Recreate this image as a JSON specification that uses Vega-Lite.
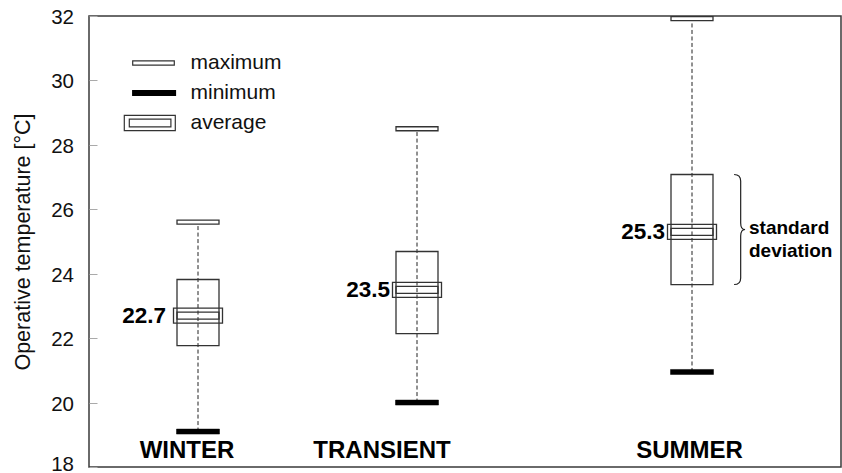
{
  "$schema": "https://vega.github.io/schema/vega-lite/v6.json",
  "width": 752,
  "height": 451,
  "autosize": "none",
  "padding": {"left": 89, "top": 16, "right": 1, "bottom": 6},
  "background": "white",
  "config": {
    "font": "Liberation Sans",
    "view": {"stroke": "#3a3a3a", "strokeWidth": 1.5}
  },
  "data": {
    "values": [
      {"season": "WINTER", "i": 1, "max": 25.6, "min": 19.1, "mean": 22.7, "lo": 21.77, "hi": 23.82},
      {"season": "TRANSIENT", "i": 2, "max": 28.5, "min": 20.0, "mean": 23.5, "lo": 22.14, "hi": 24.69},
      {"season": "SUMMER", "i": 3, "max": 31.92, "min": 20.95, "mean": 25.3, "lo": 23.66, "hi": 27.08}
    ]
  },
  "encoding": {
    "x": {
      "field": "i",
      "type": "quantitative",
      "scale": {"domain": [1, 2, 3], "range": [109, 328, 603], "nice": false, "zero": false, "padding": 0},
      "axis": {
        "title": null,
        "values": [1, 2, 3],
        "labelExpr": "datum.value == 1 ? 'WINTER' : datum.value == 2 ? 'TRANSIENT' : 'SUMMER'",
        "domain": false,
        "ticks": false,
        "grid": false,
        "labelFlush": false,
        "labelOverlap": false,
        "labelFont": "Liberation Sans",
        "labelFontWeight": "bold",
        "labelFontSize": 24,
        "labelColor": "#000",
        "labelBaseline": "alphabetic",
        "labelPadding": -10,
        "labelOffset": {
          "condition": [
            {"test": "datum.value == 1", "value": -11.5},
            {"test": "datum.value == 2", "value": -35.5}
          ],
          "value": -3
        }
      }
    }
  },
  "layer": [
    {
      "mark": {"type": "rule", "strokeDash": [4, 2.5], "color": "#222", "strokeWidth": 1},
      "encoding": {
        "y": {
          "field": "min",
          "type": "quantitative",
          "scale": {"domain": [18, 32], "nice": false, "zero": false, "padding": 0},
          "axis": {
            "title": "Operative temperature [°C]",
            "titleFont": "Liberation Sans",
            "titleFontSize": 21.5,
            "titleFontWeight": "normal",
            "titleColor": "#111",
            "titlePadding": 16,
            "values": [18, 20, 22, 24, 26, 28, 30, 32],
            "grid": false,
            "domain": false,
            "tickSize": -8,
            "tickColor": "#aaa",
            "tickWidth": 1,
            "labelFont": "Liberation Sans",
            "labelFontSize": 20.5,
            "labelColor": "#111",
            "labelPadding": 23.5,
            "labelOffset": {"condition": {"test": "datum.value == 18", "value": -3}, "value": 1.5}
          }
        },
        "y2": {"field": "max"}
      }
    },
    {
      "mark": {"type": "bar", "width": 42, "fill": "white", "fillOpacity": 0, "stroke": "#333", "strokeWidth": 1.3, "opacity": 1},
      "encoding": {
        "y": {"field": "lo", "type": "quantitative"},
        "y2": {"field": "hi"}
      }
    },
    {
      "mark": {"type": "tick", "orient": "horizontal", "size": 49, "thickness": 15, "fill": "white", "fillOpacity": 0, "stroke": "#333", "strokeWidth": 1.3, "opacity": 1},
      "encoding": {"y": {"field": "mean", "type": "quantitative"}}
    },
    {
      "mark": {"type": "tick", "orient": "horizontal", "size": 42, "thickness": 7, "fill": "white", "fillOpacity": 0, "stroke": "#333", "strokeWidth": 1.3, "opacity": 1},
      "encoding": {"y": {"field": "mean", "type": "quantitative"}}
    },
    {
      "mark": {"type": "tick", "orient": "horizontal", "size": 42, "thickness": 4, "fill": "white", "stroke": "#333", "strokeWidth": 1.3, "opacity": 1},
      "encoding": {"y": {"field": "max", "type": "quantitative"}}
    },
    {
      "mark": {"type": "tick", "orient": "horizontal", "size": 43, "thickness": 5, "fill": "#000", "stroke": "#000", "strokeWidth": 0.5, "opacity": 1},
      "encoding": {"y": {"field": "min", "type": "quantitative"}}
    },
    {
      "mark": {"type": "text", "align": "right", "baseline": "middle", "dx": {"expr": "datum.i == 1 ? -32 : -27"}, "font": "Liberation Sans", "fontWeight": "bold", "fontSize": 22.5, "color": "#000"},
      "encoding": {
        "y": {"field": "mean", "type": "quantitative"},
        "text": {"field": "mean", "type": "quantitative", "format": ".1f"}
      }
    },
    {
      "transform": [{"filter": "datum.season == 'SUMMER'"}],
      "mark": {
        "type": "point",
        "shape": "M0.765,0 Q0.885,0 0.885,0.12 L0.885,0.88 Q0.885,1 0.965,1 Q0.885,1 0.885,1.12 L0.885,1.88 Q0.885,2 0.765,2",
        "size": 12100,
        "filled": false,
        "stroke": "#222",
        "strokeWidth": 1.2,
        "opacity": 1
      },
      "encoding": {"y": {"field": "hi", "type": "quantitative"}}
    },
    {
      "transform": [{"filter": "datum.season == 'SUMMER'"}],
      "mark": {"type": "text", "align": "left", "baseline": "middle", "dx": 57, "dy": -4, "lineHeight": 22.7, "font": "Liberation Sans", "fontWeight": "bold", "fontSize": 19, "color": "#000", "text": ["standard", "deviation"]},
      "encoding": {"y": {"field": "mean", "type": "quantitative"}}
    },
    {
      "data": {"values": [{"item": "maximum"}, {"item": "minimum"}, {"item": "average"}]},
      "transform": [{"filter": "false"}],
      "mark": {"type": "point", "strokeWidth": 1.2, "opacity": 1},
      "encoding": {
        "x": {"value": 0},
        "shape": {
          "field": "item",
          "type": "nominal",
          "scale": {
            "domain": ["maximum", "minimum", "average"],
            "range": [
              "M-1.73,-0.22 H2.43 V0.22 H-1.73 Z",
              "M-1.73,-0.25 H2.55 V0.25 H-1.73 Z",
              "M-2.57,-0.77 H2.53 V0.77 H-2.57 Z M-2.07,-0.38 H2.09 V0.38 H-2.07 Z"
            ]
          },
          "legend": {
            "title": null,
            "orient": "none",
            "legendX": 50,
            "legendY": 36,
            "symbolSize": 400,
            "symbolStrokeWidth": 1.2,
            "labelFont": "Liberation Sans",
            "labelFontSize": 21,
            "labelColor": "#111",
            "labelOffset": 29.5,
            "rowPadding": 9,
            "padding": 0
          }
        },
        "fill": {
          "field": "item",
          "type": "nominal",
          "scale": {"domain": ["maximum", "minimum", "average"], "range": ["#ffffff", "#000000", "#ffffff"]},
          "legend": {"title": null}
        },
        "stroke": {
          "field": "item",
          "type": "nominal",
          "scale": {"domain": ["maximum", "minimum", "average"], "range": ["#333333", "#000000", "#333333"]},
          "legend": {"title": null}
        }
      }
    }
  ]
}
